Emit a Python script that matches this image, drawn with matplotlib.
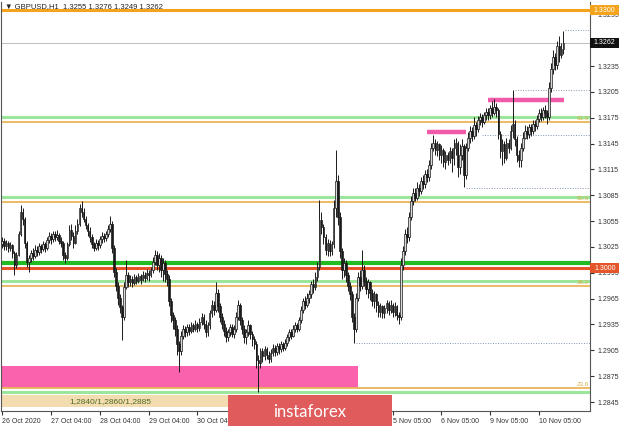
import numpy as np
import matplotlib.pyplot as plt
from matplotlib.patches import Rectangle
from matplotlib.transforms import blended_transform_factory

plt.rcParams['font.family'] = ['Liberation Sans', 'DejaVu Sans']

# GBPUSD H1, one value per bar (open of each bar = previous close)
first_open = 1.3028
close = [
    1.3032, 1.3026, 1.3030, 1.3024, 1.3027, 1.3018, 1.3004, 1.3016, 1.3040, 1.3066, 1.3058, 1.3030,
    1.3008, 1.3012, 1.3018, 1.3015, 1.3022, 1.3019, 1.3026, 1.3023, 1.3028, 1.3024, 1.3033, 1.3038,
    1.3034, 1.3040, 1.3036, 1.3039, 1.3032, 1.3030, 1.3016, 1.3012, 1.3028, 1.3045, 1.3038, 1.3030,
    1.3044, 1.3052, 1.3070, 1.3066, 1.3058, 1.3050, 1.3044, 1.3036, 1.3028, 1.3024, 1.3030, 1.3027,
    1.3034, 1.3038, 1.3035, 1.3040, 1.3046, 1.3052, 1.3024, 1.2996, 1.2980, 1.2966, 1.2955, 1.2944,
    1.2978, 1.2992, 1.2984, 1.2988, 1.2983, 1.2990, 1.2986, 1.2991, 1.2987, 1.2993, 1.2989, 1.2995,
    1.2992, 1.2998, 1.3008, 1.3016, 1.3004, 1.3012, 1.2998, 1.3006, 1.2994, 1.2988, 1.2962, 1.2946,
    1.2940, 1.2930, 1.2912, 1.2904, 1.2922, 1.2930, 1.2926, 1.2932, 1.2928, 1.2934, 1.2930, 1.2936,
    1.2931, 1.2938, 1.2944, 1.2936, 1.2926, 1.2934, 1.2948, 1.2958, 1.2952, 1.2972, 1.2956, 1.2944,
    1.2936, 1.2928, 1.2920, 1.2926, 1.2932, 1.2924, 1.2930, 1.2944, 1.2958, 1.2940, 1.2930, 1.2920,
    1.2926, 1.2934, 1.2924, 1.2918, 1.2912, 1.2894, 1.2890, 1.2904, 1.2898, 1.2906, 1.2900, 1.2895,
    1.2902, 1.2908, 1.2903, 1.2910, 1.2906, 1.2912, 1.2908, 1.2914, 1.2920, 1.2926, 1.2922, 1.2930,
    1.2934, 1.2930, 1.2940, 1.2952, 1.2962, 1.2958, 1.2966, 1.2970, 1.2982, 1.2978, 1.2990, 1.3002,
    1.3056, 1.3048, 1.3036, 1.3022, 1.3030, 1.3020, 1.3028, 1.3070, 1.3102, 1.3060, 1.3020, 1.2998,
    1.3006, 1.2992, 1.2980, 1.2970, 1.2944, 1.2930, 1.2966, 1.2990, 1.2980, 1.2998, 1.2986, 1.2976,
    1.2984, 1.2972, 1.2962, 1.2970, 1.2958, 1.2950, 1.2956, 1.2948, 1.2954, 1.2960, 1.2952, 1.2958,
    1.2950, 1.2956, 1.2946, 1.2944, 1.3004, 1.3020, 1.3040, 1.3036, 1.3060, 1.3078, 1.3088, 1.3082,
    1.3094, 1.3090, 1.3102, 1.3098, 1.3110, 1.3106, 1.3120, 1.3140, 1.3146, 1.3138, 1.3144, 1.3132,
    1.3138, 1.3124, 1.3132, 1.3126, 1.3136, 1.3128, 1.3140, 1.3146, 1.3118, 1.3132, 1.3142, 1.3108,
    1.3140, 1.3152, 1.3160, 1.3154, 1.3166, 1.3162, 1.3172, 1.3176, 1.3170, 1.3178, 1.3182, 1.3178,
    1.3186, 1.3180, 1.3188, 1.3184, 1.3156, 1.3136, 1.3144, 1.3128, 1.3146, 1.3140, 1.3160, 1.3168,
    1.3150, 1.3132, 1.3126, 1.3140, 1.3152, 1.3160, 1.3156, 1.3164, 1.3160, 1.3168, 1.3165, 1.3174,
    1.3180, 1.3176, 1.3184, 1.3180, 1.3176, 1.3210, 1.3232, 1.3246, 1.3236, 1.3258, 1.3248, 1.3255,
    1.3262]
high = [
    1.3036, 1.3035, 1.3033, 1.3032, 1.3031, 1.3029, 1.3020, 1.3019, 1.3044, 1.3074, 1.3070, 1.3060,
    1.3032, 1.3016, 1.3022, 1.3024, 1.3027, 1.3026, 1.3030, 1.3029, 1.3032, 1.3031, 1.3037, 1.3042,
    1.3041, 1.3044, 1.3043, 1.3045, 1.3041, 1.3036, 1.3032, 1.3019, 1.3031, 1.3050, 1.3052, 1.3042,
    1.3050, 1.3058, 1.3075, 1.3078, 1.3070, 1.3061, 1.3053, 1.3048, 1.3040, 1.3031, 1.3034, 1.3033,
    1.3038, 1.3042, 1.3041, 1.3044, 1.3050, 1.3061, 1.3055, 1.3027, 1.3000, 1.2984, 1.2970, 1.2958,
    1.2984, 1.3010, 1.2996, 1.2993, 1.2991, 1.2994, 1.2993, 1.2995, 1.2994, 1.2997, 1.2996, 1.2999,
    1.2998, 1.3002, 1.3013, 1.3022, 1.3020, 1.3018, 1.3016, 1.3012, 1.3010, 1.2998, 1.2992, 1.2966,
    1.2950, 1.2944, 1.2934, 1.2916, 1.2928, 1.2934, 1.2933, 1.2936, 1.2935, 1.2938, 1.2937, 1.2940,
    1.2938, 1.2942, 1.2948, 1.2947, 1.2940, 1.2938, 1.2952, 1.2963, 1.2962, 1.2984, 1.2976, 1.2960,
    1.2948, 1.2940, 1.2932, 1.2930, 1.2936, 1.2935, 1.2934, 1.2950, 1.2964, 1.2960, 1.2944, 1.2934,
    1.2930, 1.2940, 1.2936, 1.2928, 1.2922, 1.2916, 1.2900, 1.2908, 1.2908, 1.2910, 1.2909, 1.2904,
    1.2906, 1.2912, 1.2911, 1.2914, 1.2913, 1.2916, 1.2915, 1.2918, 1.2924, 1.2930, 1.2930, 1.2934,
    1.2938, 1.2937, 1.2944, 1.2956, 1.2966, 1.2968, 1.2972, 1.2975, 1.2986, 1.2988, 1.2996, 1.3008,
    1.3080, 1.3066, 1.3052, 1.3040, 1.3034, 1.3033, 1.3032, 1.3080, 1.3138, 1.3108, 1.3066, 1.3024,
    1.3012, 1.3010, 1.2996, 1.2984, 1.2974, 1.2948, 1.2972, 1.2996, 1.2998, 1.3021, 1.3004, 1.2990,
    1.2988, 1.2986, 1.2976, 1.2974, 1.2972, 1.2962, 1.2960, 1.2958, 1.2958, 1.2964, 1.2962, 1.2963,
    1.2960, 1.2961, 1.2958, 1.2950, 1.3012, 1.3026, 1.3046, 1.3048, 1.3066, 1.3084, 1.3094, 1.3093,
    1.3100, 1.3098, 1.3106, 1.3108, 1.3114, 1.3116, 1.3126, 1.3146, 1.3155, 1.3150, 1.3148, 1.3146,
    1.3143, 1.3140, 1.3136, 1.3135, 1.3141, 1.3140, 1.3150, 1.3152, 1.3148, 1.3144, 1.3150, 1.3144,
    1.3146, 1.3158, 1.3165, 1.3164, 1.3176, 1.3170, 1.3177, 1.3180, 1.3179, 1.3182, 1.3186, 1.3186,
    1.3190, 1.3194, 1.3197, 1.3192, 1.3186, 1.3160, 1.3150, 1.3148, 1.3152, 1.3150, 1.3166, 1.3207,
    1.3172, 1.3154, 1.3138, 1.3146, 1.3158, 1.3166, 1.3165, 1.3168, 1.3168, 1.3172, 1.3172, 1.3178,
    1.3185, 1.3186, 1.3188, 1.3190, 1.3184, 1.3216, 1.3238, 1.3254, 1.3250, 1.3264, 1.3270, 1.3262,
    1.3276]
low = [
    1.3024, 1.3022, 1.3021, 1.3019, 1.3020, 1.3012, 1.2993, 1.3000, 1.3014, 1.3038, 1.3050, 1.3024,
    1.3002, 1.2996, 1.3008, 1.3010, 1.3012, 1.3014, 1.3016, 1.3018, 1.3020, 1.3019, 1.3022, 1.3030,
    1.3029, 1.3031, 1.3032, 1.3033, 1.3028, 1.3025, 1.3010, 1.3006, 1.3010, 1.3026, 1.3033, 1.3024,
    1.3028, 1.3040, 1.3049, 1.3060, 1.3054, 1.3046, 1.3038, 1.3031, 1.3024, 1.3020, 1.3021, 1.3022,
    1.3024, 1.3030, 1.3031, 1.3032, 1.3037, 1.3042, 1.3018, 1.2990, 1.2974, 1.2958, 1.2948, 1.2917,
    1.2940, 1.2976, 1.2979, 1.2980, 1.2978, 1.2981, 1.2982, 1.2983, 1.2982, 1.2985, 1.2984, 1.2987,
    1.2986, 1.2990, 1.2995, 1.3004, 1.2998, 1.2996, 1.2990, 1.2986, 1.2984, 1.2980, 1.2956, 1.2938,
    1.2930, 1.2922, 1.2900, 1.2880, 1.2900, 1.2918, 1.2920, 1.2922, 1.2923, 1.2925, 1.2926, 1.2927,
    1.2926, 1.2928, 1.2934, 1.2930, 1.2920, 1.2922, 1.2930, 1.2944, 1.2946, 1.2950, 1.2950, 1.2938,
    1.2930, 1.2922, 1.2915, 1.2916, 1.2922, 1.2920, 1.2919, 1.2926, 1.2940, 1.2934, 1.2924, 1.2914,
    1.2912, 1.2922, 1.2918, 1.2910, 1.2906, 1.2884, 1.2857, 1.2884, 1.2892, 1.2894, 1.2895, 1.2890,
    1.2891, 1.2898, 1.2898, 1.2900, 1.2901, 1.2903, 1.2904, 1.2905, 1.2910, 1.2916, 1.2918, 1.2920,
    1.2926, 1.2926, 1.2928, 1.2937, 1.2948, 1.2953, 1.2955, 1.2960, 1.2966, 1.2972, 1.2975, 1.2986,
    1.2998, 1.3040, 1.3028, 1.3016, 1.3014, 1.3015, 1.3016, 1.3024, 1.3060, 1.3050, 1.3012, 1.2988,
    1.2990, 1.2984, 1.2974, 1.2964, 1.2938, 1.2914, 1.2926, 1.2962, 1.2974, 1.2976, 1.2980, 1.2970,
    1.2966, 1.2964, 1.2956, 1.2954, 1.2950, 1.2944, 1.2944, 1.2942, 1.2943, 1.2948, 1.2946, 1.2948,
    1.2944, 1.2945, 1.2940, 1.2936, 1.2940, 1.2998, 1.3016, 1.3030, 1.3032, 1.3056, 1.3074, 1.3078,
    1.3080, 1.3084, 1.3086, 1.3092, 1.3094, 1.3100, 1.3102, 1.3116, 1.3136, 1.3132, 1.3130, 1.3126,
    1.3122, 1.3118, 1.3116, 1.3120, 1.3122, 1.3112, 1.3120, 1.3132, 1.3106, 1.3110, 1.3126, 1.3095,
    1.3104, 1.3136, 1.3146, 1.3148, 1.3150, 1.3154, 1.3158, 1.3166, 1.3164, 1.3168, 1.3172, 1.3172,
    1.3174, 1.3176, 1.3178, 1.3176, 1.3150, 1.3128, 1.3120, 1.3122, 1.3126, 1.3134, 1.3138, 1.3152,
    1.3142, 1.3124, 1.3118, 1.3118, 1.3136, 1.3150, 1.3150, 1.3152, 1.3154, 1.3156, 1.3160, 1.3162,
    1.3170, 1.3171, 1.3172, 1.3175, 1.3168, 1.3172, 1.3205, 1.3226, 1.3230, 1.3232, 1.3240, 1.3244,
    1.3249]

date_pos = [0, 24, 48, 72, 96, 120, 144, 168, 192, 216, 240, 264]
date_labels = ['26 Oct 2020', '27 Oct 04:00', '28 Oct 04:00', '29 Oct 04:00', '30 Oct 04:00',
               '2 Nov 05:00', '3 Nov 05:00', '4 Nov 05:00', '5 Nov 05:00', '6 Nov 05:00',
               '9 Nov 05:00', '10 Nov 05:00']
price_ticks = [1.2845, 1.2875, 1.2905, 1.2935, 1.2965, 1.2995, 1.3025, 1.3055,
               1.3085, 1.3115, 1.3145, 1.3175, 1.3205, 1.3235, 1.3295]

# levels: (price, colour, width)
levels = [(1.3300, '#f4a41c', 2.2), (1.3176, '#9be69b', 2.2), (1.3170, '#e9b65a', 1.3),
          (1.3083, '#9be69b', 2.2), (1.3077, '#e9b65a', 1.3), (1.3006, '#22bb22', 3.0),
          (1.3000, '#e4562a', 2.2), (1.2985, '#9be69b', 2.2), (1.2980, '#e9b65a', 1.3),
          (1.2861, '#e9b65a', 1.3), (1.2857, '#9be69b', 2.2)]
fib_labels = [(1.3170, '61.8'), (1.3077, '50.0'), (1.2980, '38.2'), (1.2861, '23.6')]
# dotted highs/lows extended to the right: (price, start bar)
dotted = [(1.3277, 277), (1.3207, 252), (1.3155, 236), (1.3093, 228), (1.2914, 174)]
# pink resistance strokes: (price, start bar, end bar)
pink_lines = [(1.3158, 209, 228), (1.3196, 239, 276.5)]
zone_top, zone_bottom, zone_end = 1.2887, 1.2861, 175
band_top, band_bottom = 1.2853, 1.2839
last_price = 1.3262
# price boxes on the scale: (price, text, colour)
price_boxes = [(1.3300, '1.3300', '#f4a41c'), (last_price, '1.3262', '#111111'),
               (1.3000, '1.3000', '#e4562a')]

o = np.array([first_open] + close[:-1])
c = np.array(close)
h = np.array(high)
l = np.array(low)
x = np.arange(len(c))

fig = plt.figure(figsize=(6.2, 4.26), dpi=100)
ax = fig.add_axes([0.002, 15 / 426, 589 / 620, 409 / 426])
ax.set_xlim(-0.5, 289.2)
ax.set_ylim(1.28346, 1.33093)

# zone and band
ax.add_patch(Rectangle((-0.5, zone_bottom), zone_end + 0.5, zone_top - zone_bottom,
                       fc='#fb62ad', ec='none', zorder=1))
ax.add_patch(Rectangle((-0.5, band_bottom), zone_end + 0.5, band_top - band_bottom,
                       fc='#f3dcb0', ec='none', zorder=1))
ax.text(33, (band_top + band_bottom) / 2, '1,2840/1,2860/1,2885', fontsize=6,
        color='#4d6b1f', va='center', zorder=2)

for p, col, lw in levels:
    ax.axhline(p, color=col, lw=lw, zorder=2)
ax.axhline(last_price, color='#bdbdbd', lw=0.7, zorder=2)
for p, txt in fib_labels:
    ax.text(288.5, p + 0.00012, txt, fontsize=4.5, color='#d2b24a', ha='right', va='bottom', zorder=3)
for p, start in dotted:
    ax.plot([start, 289.2], [p, p], color='#8295ad', lw=0.7, ls=(0, (1, 1.6)), zorder=2)
for p, x0, x1 in pink_lines:
    ax.plot([x0, x1], [p, p], color='#f05aa8', lw=3.2, solid_capstyle='butt', zorder=3)

# candles
ax.vlines(x, l, h, color='#1a1a1a', lw=0.7, zorder=4)
up = c >= o
ax.bar(x[up], (c - o)[up], bottom=o[up], width=0.8, color='#d8d8d8', edgecolor='#1a1a1a',
       linewidth=0.5, zorder=5)
ax.bar(x[~up], (o - c)[~up], bottom=c[~up], width=0.8, color='#1a1a1a', edgecolor='#1a1a1a',
       linewidth=0.5, zorder=5)

# axes look
ax.spines['top'].set_visible(False)
for s in ['left', 'right', 'bottom']:
    ax.spines[s].set_color('#555555')
    ax.spines[s].set_linewidth(0.8)
ax.yaxis.tick_right()
ax.set_yticks(price_ticks)
ax.set_yticklabels(['%.4f' % t for t in price_ticks])
ax.tick_params(axis='y', labelsize=5, length=3, pad=2, colors='#333333')
ax.set_xticks(date_pos)
ax.set_xticklabels(date_labels, ha='left')
ax.tick_params(axis='x', labelsize=5, length=3, pad=2, colors='#333333')

# boxes on the price scale, 29 px wide and 10 px high
tr = blended_transform_factory(ax.transAxes, ax.transData)
half = 5 * (1.33093 - 1.28346) / 409
for p, txt, col in price_boxes:
    ax.add_patch(Rectangle((1.0, p - half), 29 / 589, 2 * half, transform=tr, fc=col,
                           ec='none', clip_on=False, zorder=9))
    ax.text(1.0 + 14.5 / 589, p, txt, transform=tr, fontsize=5, color='white', va='center',
            ha='center', clip_on=False, zorder=10)

fig.text(0.008, 0.994, '\u25bc GBPUSD,H1  1.3255 1.3276 1.3249 1.3262', fontsize=5.5,
         color='#222222', va='top')

# watermark
fig.patches.append(Rectangle((228 / 620, 0), 164 / 620, 31 / 426, transform=fig.transFigure,
                             fc='#e05b5b', ec='none', zorder=20))
fig.text(310 / 620, 14 / 426, 'instaforex', fontsize=12, color='white', family='Lato',
         ha='center', va='center', zorder=21)

fig.savefig('out.png', dpi=100)
